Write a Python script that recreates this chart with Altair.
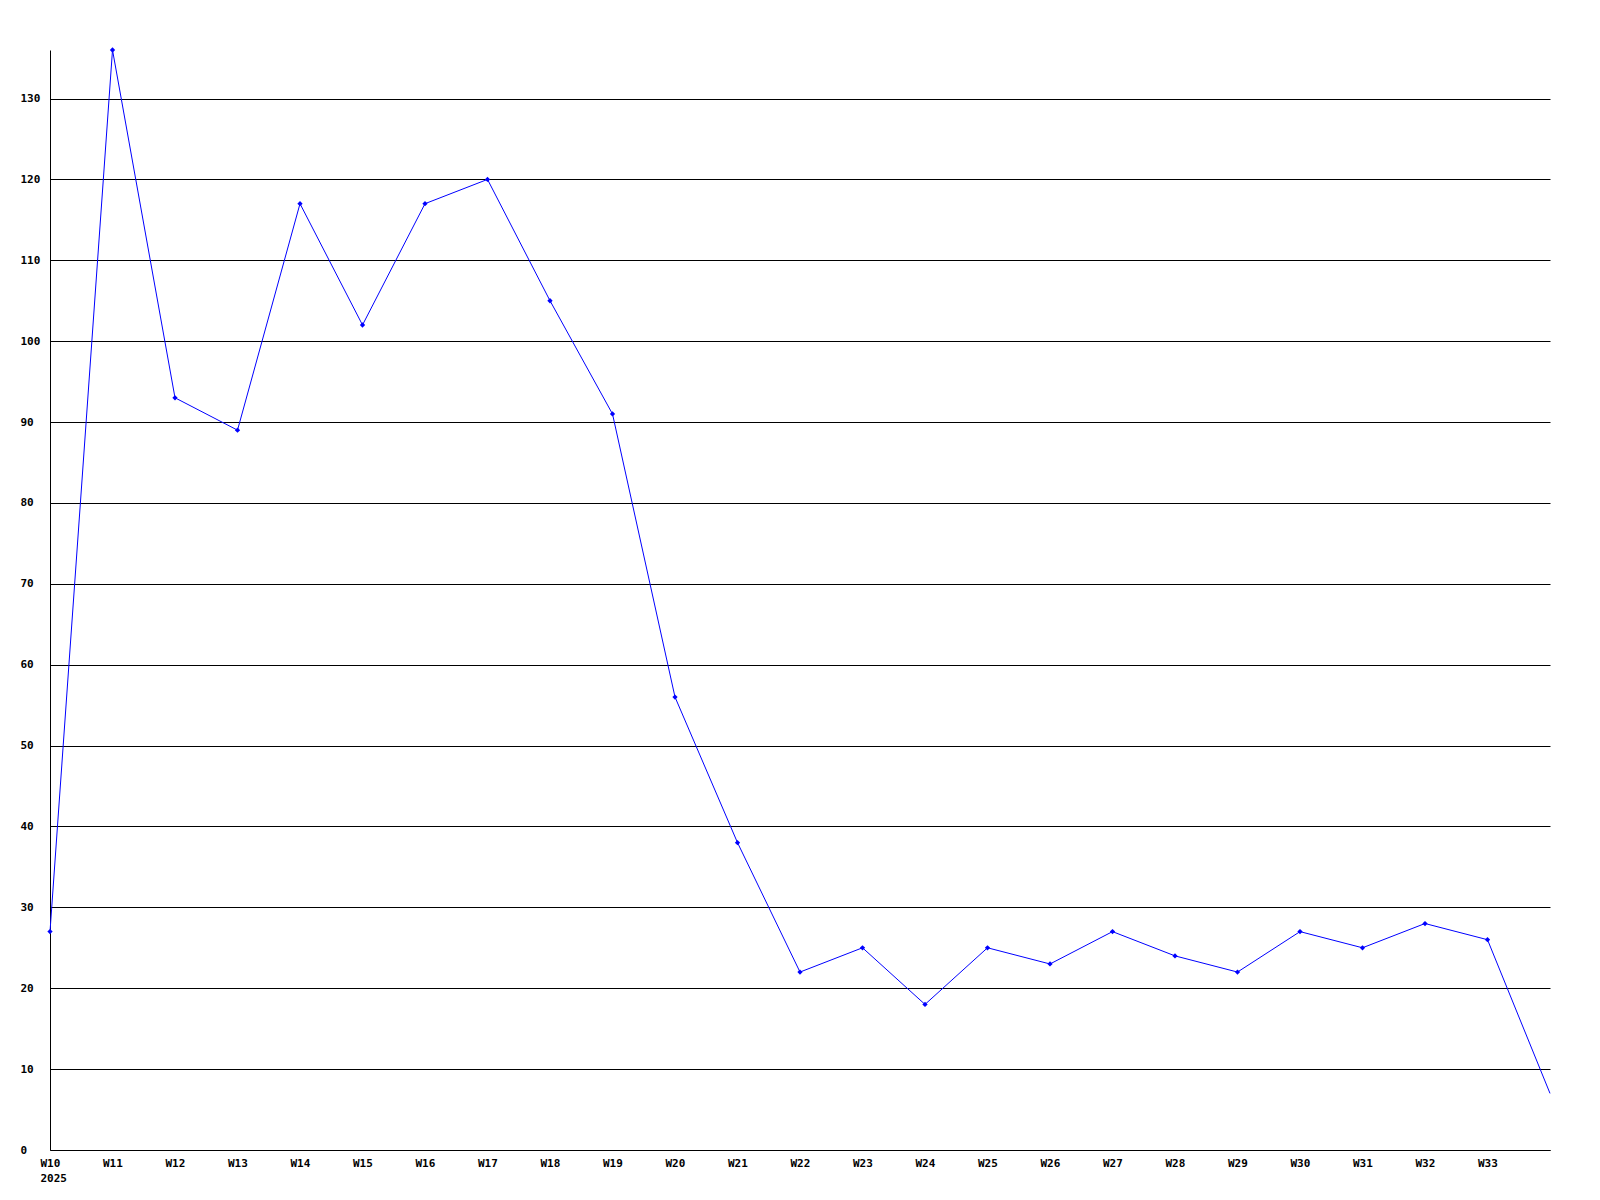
import altair as alt
import pandas as pd

weeks = ["W10", "W11", "W12", "W13", "W14", "W15", "W16", "W17", "W18", "W19",
         "W20", "W21", "W22", "W23", "W24", "W25", "W26", "W27", "W28", "W29",
         "W30", "W31", "W32", "W33", "W34"]
values = [27, 136, 93, 89, 117, 102, 117, 120, 105, 91,
          56, 38, 22, 25, 18, 25, 23, 27, 24, 22,
          27, 25, 28, 26, 7]
y_ticks = list(range(0, 140, 10))

df = pd.DataFrame({"week": weeks, "value": values})
df["marker"] = [w != "W34" for w in weeks]

font = "DejaVu Sans Mono"

x = alt.X("week:N", sort=weeks,
          scale=alt.Scale(type="point", padding=0, domain=weeks),
          axis=alt.Axis(title=None, grid=False, ticks=False, domainColor="black",
                        labelAngle=0, labelAlign="left", labelOffset=-10,
                        labelBaseline="top", labelPadding=7,
                        labelFont=font, labelFontSize=11, labelFontWeight="bold",
                        labelColor="black", labelLineHeight=15,
                        labelExpr="datum.value == 'W10' ? ['W10', '2025'] : (datum.value == 'W34' ? '' : datum.value)"))
y = alt.Y("value:Q",
          scale=alt.Scale(domain=[0, 136], nice=False, zero=True),
          axis=alt.Axis(title=None, values=y_ticks, grid=True, gridColor="black",
                        gridOpacity=1, gridWidth=1, ticks=False, domainColor="black",
                        labelAlign="left", labelPadding=30, labelBaseline="middle",
                        labelFont=font, labelFontSize=11, labelFontWeight="bold",
                        labelColor="black"))

line = alt.Chart(df).mark_line(color="#0000ff", strokeWidth=1).encode(x=x, y=y)
pts = alt.Chart(df).transform_filter("datum.marker").mark_point(
    shape="diamond", size=28, filled=True, color="#0000ff", opacity=1).encode(x=x, y=y)

chart = (line + pts).properties(
    width=1500, height=1100,
    background="white",
    padding={"left": 42, "top": 42, "right": 10, "bottom": 42},
    autosize=alt.AutoSizeParams(type="none"),
).configure_view(strokeWidth=0, stroke="transparent")

chart.save("out.html", embed_options={"renderer": "svg", "actions": False})
